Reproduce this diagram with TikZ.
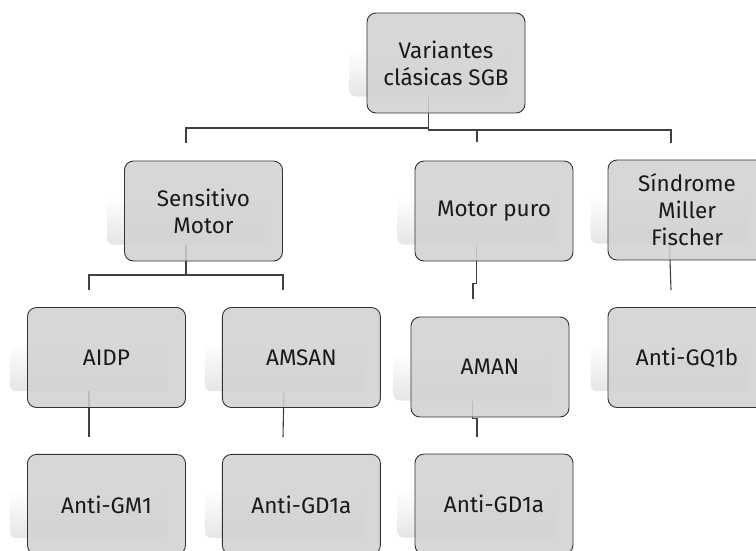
\documentclass[tikz,border=0pt]{standalone}
\usepackage{fontspec}
\setmainfont{Fira Sans}
\usetikzlibrary{positioning, backgrounds}

\begin{document}
\begin{tikzpicture}[
    x=1pt, y=-1pt,
    node distance=46pt and 36pt,
    box/.style={draw=black!80, fill=black!18, fill opacity=0.86, text opacity=1, rounded corners=9pt, line width=0.9pt,
        minimum width=158pt, minimum height=100pt, align=center, text=black!90, font=\fontsize{22.5}{27}\selectfont},
    ghost/.style={rounded corners=6pt, minimum width=158pt, minimum height=48pt, top color=white, bottom color=black!10},
    link/.style={draw=black!75, line width=1.1pt}
]
    \useasboundingbox (0,0) rectangle (756,550);
    \clip (0,0) rectangle (756,550);
    % Root and first level
    \node[box] (root) at (446,63) {Variantes\\clásicas SGB};
    \node[box] (senmot) at (203.5,211) {Sensitivo\\Motor};
    \node[box] (motpur) at (494,211) {Motor puro};
    \node[box] (smf) at (687,210) {Síndrome\\Miller\\Fischer};
    % Second level
    \node[box] (aidp) at (106.5,357.5) {AIDP};
    \node[box, right=of aidp] (amsan) {AMSAN};
    \node[box] (aman) at (490,367) {AMAN};
    \node[box] (gq1b) at (687,357.5) {Anti-GQ1b};
    % Antibodies
    \node[box, below=of aidp] (gm1) {Anti-GM1};
    \node[box, below=of amsan] (gd1a) {Anti-GD1a};
    \node[box] (gd1b) at (494,504) {Anti-GD1a};
    \begin{scope}[on background layer]
        % Faded ghost boxes behind each node
        \foreach \n in {root, senmot, motpur, smf, aidp, amsan, aman, gq1b, gm1, gd1a, gd1b}
            \node[ghost] (\n-g) at ([shift={(-17.5,9.5)}]\n.center) {};
        % Bus coordinates
        \coordinate (busL) at (186,128);
        \coordinate (busR) at (671,130);
        \coordinate (senmot-in) at (186,143);
        \coordinate (motpur-in) at (477,142);
        \coordinate (smf-in) at (671,143);
        \coordinate (bus2) at (186,275);
        \coordinate (aidp-in) at (89,290);
        \coordinate (amsan-in) at (283,290);
        \coordinate (aman-in) at (473,299);
        \coordinate (gq1b-in) at (671,290);
        \coordinate (gm1-in) at (89,437);
        \coordinate (gd1a-in) at (283,437);
        \coordinate (gd1b-in) at (477,437);
        % Connectors
        \draw[link] (root-g.south) |- (busL) -- (senmot-in);
        \draw[link] (root-g.south) |- (busR) -- (smf-in);
        \draw[link] (motpur-in) -- (motpur-in |- busR);
        \draw[link] (senmot-g.south) -- (bus2);
        \draw[link] (aidp-in) |- (bus2) -| (amsan-in);
        \draw[link] (motpur-g.south) -- ++(0,39) -| (aman-in);
        \draw[link] (smf-g.south) -- (gq1b-in);
        \draw[link] (aidp-g.south) -- (gm1-in);
        \draw[link] (amsan-g.south) -- (gd1a-in);
        \draw[link] (aman-g.south) -- ++(0,18) -| (gd1b-in);
    \end{scope}
\end{tikzpicture}
\end{document}
